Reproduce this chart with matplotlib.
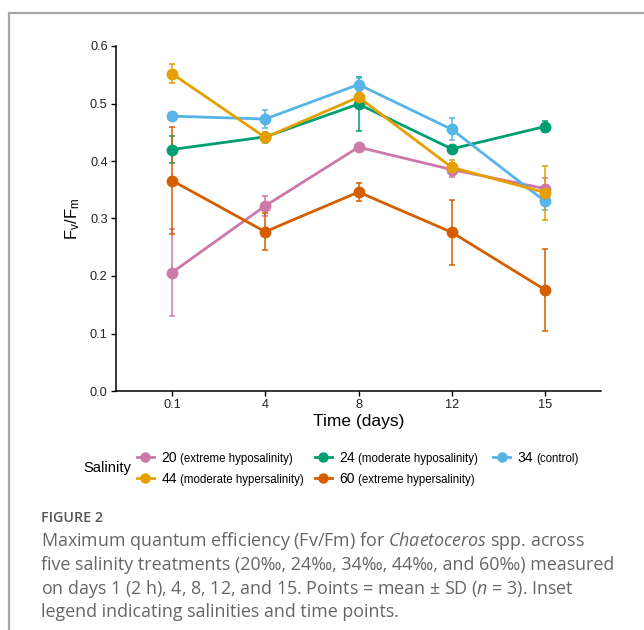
import matplotlib.pyplot as plt
import numpy as np
from matplotlib.lines import Line2D

plt.rcParams['font.family'] = ['Liberation Sans', 'DejaVu Sans']
plt.rcParams['mathtext.fontset'] = 'custom'
plt.rcParams['mathtext.rm'] = 'Open Sans'
plt.rcParams['mathtext.it'] = 'Open Sans:italic'

# Fv/Fm means and SDs
days = ["0.1", "4", "8", "12", "15"]
salinity = ["20", "24", "34", "44", "60"]
notes = ["(extreme hyposalinity)", "(moderate hyposalinity)", "(control)",
         "(moderate hypersalinity)", "(extreme hypersalinity)"]
colors = ["#CC79A7", "#009E73", "#56B4E9", "#E69F00", "#D55E00"]

fvfm_20 = [0.206, 0.322, 0.424, 0.385, 0.352]
sd_20 = [0.076, 0.017, 0.004, 0.012, 0.019]
fvfm_24 = [0.420, 0.442, 0.499, 0.421, 0.460]
sd_24 = [0.024, 0.004, 0.047, 0.004, 0.010]
fvfm_34 = [0.478, 0.473, 0.533, 0.455, 0.330]
sd_34 = [0.004, 0.015, 0.012, 0.019, 0.016]
fvfm_44 = [0.552, 0.441, 0.511, 0.389, 0.345]
sd_44 = [0.017, 0.010, 0.006, 0.013, 0.047]
fvfm_60 = [0.366, 0.277, 0.346, 0.276, 0.176]
sd_60 = [0.093, 0.032, 0.016, 0.056, 0.071]

means = [fvfm_20, fvfm_24, fvfm_34, fvfm_44, fvfm_60]
sds = [sd_20, sd_24, sd_34, sd_44, sd_60]

fig = plt.figure(figsize=(6.44, 6.30), dpi=100)
ax = fig.add_axes([116 / 644, 1 - 391 / 630, 485 / 644, 345 / 630])

x = np.arange(len(days))
for m, s, c in zip(means, sds, colors):
    ax.errorbar(x, m, yerr=s, color=c, lw=2, marker='o', ms=7.5,
                elinewidth=1.1, capsize=2.5, capthick=1.1)

ax.set_xlim(-0.6, len(days) - 0.4)
ax.set_ylim(0, 0.6)
ax.set_xticks(x)
ax.set_xticklabels(days)
ax.set_yticks(np.arange(0, 0.61, 0.1))
ax.set_yticklabels([f"{v:.1f}" for v in np.arange(0, 0.61, 0.1)])
ax.tick_params(labelsize=9.2, labelcolor='#222222', length=3.5, width=1, pad=2.5)
ax.spines[['top', 'right']].set_visible(False)
ax.spines[['left', 'bottom']].set_linewidth(1.1)
ax.set_xlabel("Time (days)", fontsize=12.5, labelpad=2)
ax.set_ylabel(r"F$_\mathregular{v}$/F$_\mathregular{m}$", fontsize=12, labelpad=6)

# legend: numbers big, descriptions small, title on the left
order = [0, 3, 1, 4, 2]
handles = [Line2D([], [], color=colors[i], lw=2, marker='o', ms=6.5) for i in order]
leg = fig.legend(handles, [salinity[i] for i in order], ncol=3, frameon=False,
                 loc='upper left', bbox_to_anchor=(137 / 644, 1 - 451 / 630),
                 fontsize=10, handlelength=1.2, handletextpad=0.55,
                 columnspacing=9.95, labelspacing=0.5, borderpad=0,
                 borderaxespad=0)
fig.text(83 / 644, 1 - 468 / 630, "Salinity", fontsize=10.6, va='center')

fig.canvas.draw()
for txt, i in zip(leg.get_texts(), order):
    bb = txt.get_window_extent()
    fig.text(bb.x1 + 3, bb.y0 + 3.3, notes[i], fontsize=8.3, va='baseline',
             transform=None)

# frame lines around the figure panel
fig.add_artist(Line2D([9 / 644, 1], [1 - 13 / 630, 1 - 13 / 630],
                      color='#a8a8a8', lw=1.6))
fig.add_artist(Line2D([9 / 644, 9 / 644], [0, 1 - 13 / 630],
                      color='#a8a8a8', lw=1.6))

# caption
cap_font = ['Open Sans', 'DejaVu Sans']
fig.text(41 / 644, 1 - 522 / 630, "FIGURE 2", fontsize=10.3, color='#555555',
         family=cap_font, fontweight='semibold', va='baseline')
caption = [
    r"Maximum quantum efficiency (Fv/Fm) for $\mathit{Chaetoceros}$ spp. across",
    "five salinity treatments (20‰, 24‰, 34‰, 44‰, and 60‰) measured",
    r"on days 1 (2 h), 4, 8, 12, and 15. Points = mean ± SD ($\mathit{n}$ = 3). Inset",
    "legend indicating salinities and time points.",
]
for line, yb in zip(caption, [546, 570, 594, 617]):
    fig.text(41 / 644, 1 - yb / 630, line, fontsize=12.9, color='#666666',
             family=cap_font, va='baseline')

plt.savefig("out.png", dpi=100)
